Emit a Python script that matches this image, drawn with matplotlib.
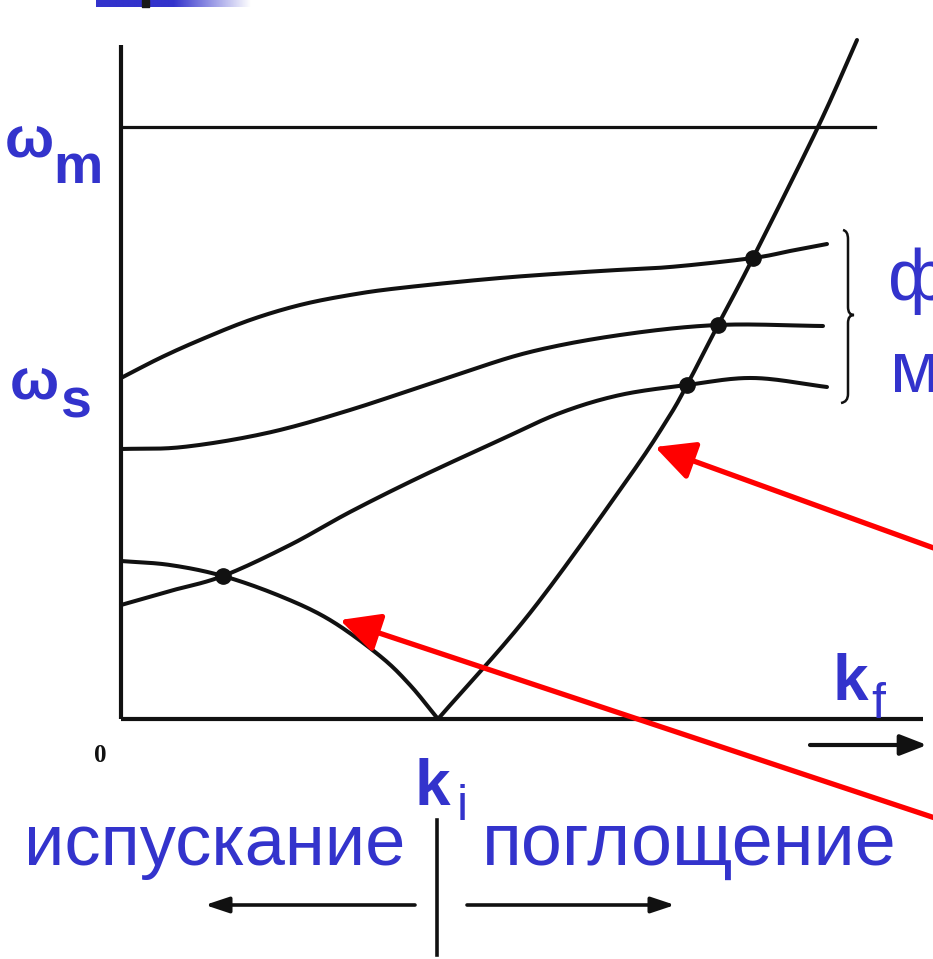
import numpy as np
import matplotlib
matplotlib.use("Agg")
import matplotlib.pyplot as plt
from matplotlib.path import Path
from matplotlib.patches import PathPatch
from matplotlib.colors import LinearSegmentedColormap

BLUE = "#3333CC"
INK = "#111111"

# Dispersion branches of the excitation (k, omega)
k_top = [0.00, 0.39, 0.79, 1.29, 1.79, 2.29, 2.79, 3.79, 4.79, 5.49, 6.32, 6.69, 7.06]
w_top = [3.41, 3.61, 3.79, 3.99, 4.14, 4.24, 4.31, 4.41, 4.48, 4.52, 4.61, 4.68, 4.75]

k_mid = [0.00, 0.62, 1.46, 2.29, 3.29, 4.09, 4.99, 5.97, 7.02]
w_mid = [2.70, 2.72, 2.86, 3.09, 3.42, 3.67, 3.84, 3.94, 3.93]

k_low = [0.00, 0.49, 1.02, 1.69, 2.29, 2.99, 3.79, 4.39, 4.99, 5.66, 6.32, 7.06]
w_low = [1.14, 1.28, 1.43, 1.74, 2.07, 2.42, 2.79, 3.06, 3.24, 3.34, 3.41, 3.32]

# Energy-transfer parabola around the initial wave vector k_i
k_emit = [0.00, 0.49, 1.02, 1.59, 2.09, 2.59, 2.89, 3.17]
w_emit = [1.58, 1.54, 1.43, 1.23, 0.99, 0.63, 0.34, 0.00]

k_abs = [3.17, 4.09, 5.06, 5.46, 5.66, 5.97, 6.32, 6.97, 7.36]
w_abs = [0.00, 1.06, 2.39, 2.99, 3.34, 3.94, 4.61, 5.92, 6.79]

# Points where the scan crosses a branch
k_cross = [1.02, 5.66, 5.97, 6.32]
w_cross = [1.43, 3.34, 3.94, 4.61]

omega_m = 5.92
k_i = 3.17


def smooth(xs, ys, n=24):
    """Catmull-Rom spline through the given points, for a smooth stroke."""
    p = np.column_stack([xs, ys]).astype(float)
    p = np.vstack([2 * p[0] - p[1], p, 2 * p[-1] - p[-2]])
    out = []
    t = np.linspace(0, 1, n, endpoint=False)[:, None]
    for i in range(1, len(p) - 2):
        p0, p1, p2, p3 = p[i - 1], p[i], p[i + 1], p[i + 2]
        seg = 0.5 * ((2 * p1) + (-p0 + p2) * t + (2 * p0 - 5 * p1 + 4 * p2 - p3) * t ** 2
                     + (-p0 + 3 * p1 - 3 * p2 + p3) * t ** 3)
        out.append(seg)
    out.append(p[-2][None, :])
    out = np.vstack(out)
    return out[:, 0], out[:, 1]


fig = plt.figure(figsize=(9.33, 9.59), dpi=100)
ax = fig.add_axes([0, 0, 1, 1])
ax.set_xlim(-1.21, 8.12)
ax.set_ylim(-2.40, 7.19)
ax.axis("off")

# Slide header strip
grad = np.linspace(0, 1, 256)[None, :]
cmap = LinearSegmentedColormap.from_list("hdr", [(0, BLUE), (0.5, BLUE), (1, "white")])
ax.imshow(grad, cmap=cmap, extent=(-0.25, 1.29, 7.12, 7.19), aspect="auto", zorder=1)
ax.fill_between([0.21, 0.28], 7.12, 7.19, color="#1a1a1a", zorder=2)

# Axes of the diagram
ax.plot([0, 0], [0, 6.74], color=INK, lw=3.0, solid_capstyle="butt")
ax.plot([0, 8.02], [0, 0], color=INK, lw=3.0, solid_capstyle="butt")
ax.plot([0, 7.54], [omega_m, omega_m], color=INK, lw=2.3)

lw = 2.9
for ks, ws in [(k_top, w_top), (k_mid, w_mid), (k_low, w_low), (k_emit, w_emit), (k_abs, w_abs)]:
    xs, ys = smooth(ks, ws)
    ax.plot(xs, ys, color=INK, lw=lw, solid_capstyle="round", zorder=3)

ax.plot(k_cross, w_cross, "o", color=INK, ms=11, zorder=4)

# Curly brace grouping the three branches
verts = [(7.22, 4.89), (7.27, 4.88), (7.27, 4.80),
         (7.27, 4.12), (7.27, 4.04), (7.33, 4.04),
         (7.27, 4.04), (7.27, 3.96), (7.27, 3.25),
         (7.27, 3.17), (7.20, 3.16)]
codes = [Path.MOVETO, Path.CURVE3, Path.CURVE3,
         Path.LINETO, Path.CURVE3, Path.CURVE3,
         Path.CURVE3, Path.CURVE3, Path.LINETO,
         Path.CURVE3, Path.CURVE3]
ax.add_patch(PathPatch(Path(verts, codes), fill=False, color=INK, lw=1.8))

# k_f direction arrow
ax.annotate("", xy=(8.06, -0.26), xytext=(6.89, -0.26),
            arrowprops=dict(arrowstyle="-|>,head_length=0.9,head_width=0.35",
                            mutation_scale=18, color=INK, lw=3.0, shrinkA=0, shrinkB=0))

# Emission / absorption split at k_i
ax.plot([k_i - 0.01, k_i - 0.01], [-1.01, -2.36], color=INK, lw=2.6)
for x0, x1 in [(2.94, 0.84), (3.46, 5.54)]:
    ax.annotate("", xy=(x1, -1.86), xytext=(x0, -1.86),
                arrowprops=dict(arrowstyle="-|>,head_length=0.9,head_width=0.3",
                                mutation_scale=16, color=INK, lw=2.6, shrinkA=0, shrinkB=0))

# Red pointers
for tip, tail in [((5.34, 2.72), (8.32, 1.64)), ((2.19, 0.99), (8.32, -1.05))]:
    ax.annotate("", xy=tip, xytext=tail,
                arrowprops=dict(arrowstyle="-|>,head_length=1.0,head_width=0.5",
                                mutation_scale=24, color="#FF0000", lw=3.8,
                                shrinkA=0, shrinkB=0), zorder=5)

# Labels
sans = "Liberation Sans"
ax.text(-1.16, 5.61, "ω", color=BLUE, fontsize=42, fontweight="bold", family=sans)
ax.text(-0.68, 5.36, "m", color=BLUE, fontsize=40, fontweight="bold", family=sans)
ax.text(-1.11, 3.19, "ω", color=BLUE, fontsize=42, fontweight="bold", family=sans)
ax.text(-0.61, 3.02, "s", color=BLUE, fontsize=40, fontweight="bold", family=sans)
ax.text(-0.21, -0.43, "0", color=INK, fontsize=18, fontweight="bold",
        family="Liberation Serif", ha="center")
ax.text(7.11, 0.19, "k", color=BLUE, fontsize=46, fontweight="bold", family=sans)
ax.text(7.50, 0.01, "f", color=BLUE, fontsize=36, family=sans)
ax.text(2.93, -0.86, "k", color=BLUE, fontsize=46, fontweight="bold", family=sans)
ax.text(3.36, -1.01, "i", color=BLUE, fontsize=36, family=sans)
ax.text(-0.97, -1.46, "испускание", color=BLUE, fontsize=52, family=sans)
ax.text(3.61, -1.46, "поглощение", color=BLUE, fontsize=53, family=sans)
ax.text(7.67, 4.19, "фононы", color=BLUE, fontsize=52, family=sans, clip_on=False)
ax.text(7.69, 3.27, "моды", color=BLUE, fontsize=52, family=sans, clip_on=False)

fig.savefig("out.png", dpi=100, facecolor="white")
